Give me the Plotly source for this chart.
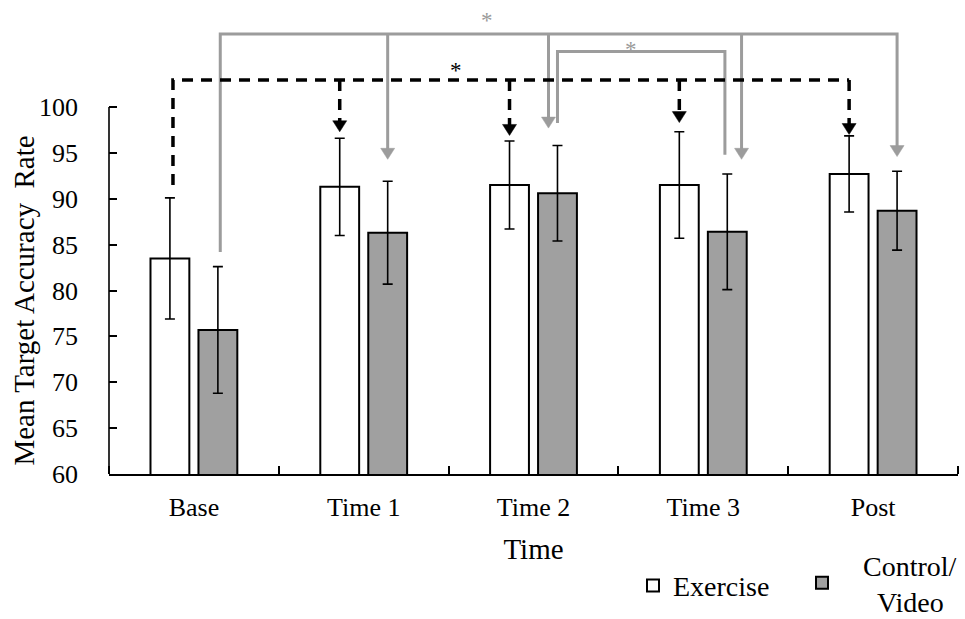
import plotly.graph_objects as go

# ---- data ----
times = ["Base", "Time 1", "Time 2", "Time 3", "Post"]
exercise_mean = [83.5, 91.3, 91.5, 91.5, 92.7]
exercise_err = [6.6, 5.3, 4.8, 5.8, 4.15]
control_mean = [75.7, 86.3, 90.6, 86.4, 88.7]
control_err = [6.9, 5.6, 5.2, 6.3, 4.3]
y_ticks = [60, 65, 70, 75, 80, 85, 90, 95, 100]

# significance brackets (y in accuracy units)
ex_line_y = 102.94          # dashed bracket, Exercise comparisons
ex_start_y = 91.5
ex_arrow_tips = [97.3, 96.9, 98.3, 97.0]     # Time 1, Time 2, Time 3, Post
ct_line_y = 107.96          # outer gray bracket, Control comparisons
ct_start_y = 84.2
ct_arrow_tips = [94.3, 97.7, 94.3, 94.6]
ct_drop_shift = [0.0, -0.053, 0.084, 0.0]
inner_line_y = 106.06       # inner gray bracket Time 2 -> Time 3
inner_left_end = 98.26
inner_right_end = 94.8
stars = [  # x (category units), y, colour
    (1.7235, 109.4, "#9a9a9a"),
    (2.574, 106.3, "#9a9a9a"),
    (1.545, 103.96, "#000000"),
]

GRAY_FILL = "#a0a0a0"
GRAY_LINE = "#9c9c9c"
FONT = "Liberation Serif"
BARGAP = 0.435
BARGROUPGAP = 0.19
HALF = (1 - BARGAP) / 4      # centre offset of each bar in a group
Y_TOP = 60 + 474 / 9.175

x = list(range(len(times)))

fig = go.Figure()
fig.add_trace(go.Bar(
    x=x, y=exercise_mean, name="Exercise", legend="legend", showlegend=True,
    marker=dict(color="white", line=dict(color="black", width=2)),
    error_y=dict(type="data", array=exercise_err, color="black", thickness=1.6, width=5),
))
fig.add_trace(go.Bar(
    x=x, y=control_mean, name="\u00a0\u00a0\u00a0Control/<br>\u00a0\u00a0\u00a0\u00a0\u00a0Video",
    legend="legend2", showlegend=True,
    marker=dict(color=GRAY_FILL, line=dict(color="black", width=2)),
    error_y=dict(type="data", array=control_err, color="black", thickness=1.6, width=5),
))

shapes = []
# outer gray bracket: Base control -> Post control
shapes.append(dict(
    type="path", xref="x", yref="y",
    path=f"M {0 + HALF + 0.014},{ct_start_y} V {ct_line_y} H {4 + HALF} V {ct_arrow_tips[3] + 1.0}",
    line=dict(color=GRAY_LINE, width=3),
))
for i, (tip, sh) in enumerate(zip(ct_arrow_tips[:3], ct_drop_shift[:3]), start=1):
    xs = i + HALF + sh
    shapes.append(dict(type="line", xref="x", yref="y", x0=xs, x1=xs,
                       y0=ct_line_y, y1=tip + 1.0, line=dict(color=GRAY_LINE, width=3)))
# inner gray bracket: Time 2 control -> Time 3 control
shapes.append(dict(
    type="path", xref="x", yref="y",
    path=f"M {2 + HALF},{inner_left_end} V {inner_line_y} H {3 + HALF - 0.014} V {inner_right_end}",
    line=dict(color=GRAY_LINE, width=3),
))
# gray arrow heads
for i, (tip, sh) in enumerate(zip(ct_arrow_tips, ct_drop_shift), start=1):
    shapes.append(dict(type="path", xref="x", yref="y", xsizemode="pixel", ysizemode="pixel",
                       xanchor=i + HALF + sh, yanchor=tip,
                       path="M -7,11 L 7,11 L 0,0 Z",
                       fillcolor=GRAY_LINE, line=dict(color=GRAY_LINE, width=0.5)))
# black dashed bracket: Base exercise -> every later exercise bar
shapes.append(dict(
    type="path", xref="x", yref="y",
    path=f"M {0 - HALF + 0.018},{ex_start_y} V {ex_line_y} H {4 - HALF}",
    line=dict(color="black", width=3.5, dash="11px,8px"),
))
for i, tip in enumerate(ex_arrow_tips, start=1):
    xs = i - HALF
    shapes.append(dict(type="line", xref="x", yref="y", x0=xs, x1=xs,
                       y0=ex_line_y, y1=tip + 1.0, line=dict(color="black", width=3.5, dash="11px,8px")))
    shapes.append(dict(type="path", xref="x", yref="y", xsizemode="pixel", ysizemode="pixel",
                       xanchor=xs, yanchor=tip,
                       path="M -7,11 L 7,11 L 0,0 Z",
                       fillcolor="black", line=dict(color="black", width=0.5)))
# y axis line spanning only the scale 60-100
shapes.append(dict(type="line", xref="paper", yref="y", x0=0, x1=0, y0=60, y1=100,
                   line=dict(color="black", width=1.6)))

annotations = [
    dict(text="*", x=sx, y=sy, xref="x", yref="y", showarrow=False,
         font=dict(family=FONT, size=23, color=c))
    for sx, sy, c in stars
]
annotations.append(dict(
    text="Mean Target Accuracy  Rate", textangle=-90, xref="paper", yref="y",
    x=(24 - 109) / 849, y=78.9, showarrow=False, xanchor="center", yanchor="middle",
    font=dict(family=FONT, size=29, color="black"),
))

legend_font = dict(family=FONT, size=28, color="black")
fig.update_layout(
    width=965, height=619,
    margin=dict(l=109, r=7, t=0, b=145, pad=0, autoexpand=False),
    paper_bgcolor="white", plot_bgcolor="white",
    barmode="group", bargap=BARGAP, bargroupgap=BARGROUPGAP,
    font=dict(family=FONT, color="black"),
    shapes=shapes, annotations=annotations,
    showlegend=True,
    legend=dict(x=(633 - 109) / 849, y=-0.236, xanchor="left", yanchor="middle",
                font=legend_font, bgcolor="rgba(0,0,0,0)", visible=True),
    legend2=dict(x=(802 - 109) / 849, y=-0.2297, xanchor="left", yanchor="middle",
                 font=legend_font, bgcolor="rgba(0,0,0,0)", visible=True),
)
fig.update_xaxes(
    range=[-0.5, 4.5], tickvals=x, ticktext=times, ticks="", automargin=False,
    tickfont=dict(family=FONT, size=26, color="black"), ticklabelstandoff=9,
    showline=True, linecolor="black", linewidth=1.6, showgrid=False, zeroline=False,
    minor=dict(tick0=0.5, dtick=1, ticks="inside", ticklen=8, tickwidth=1.6, tickcolor="black"),
    title=dict(text="Time", font=dict(family=FONT, size=29, color="black"), standoff=18),
)
fig.update_yaxes(
    range=[60, Y_TOP], tickvals=y_ticks, ticks="inside", ticklen=8, tickwidth=1.6, automargin=False,
    tickcolor="black", tickfont=dict(family=FONT, size=26, color="black"),
    ticklabelstandoff=30, showline=False, showgrid=False, zeroline=False,
)

fig.write_html("out.html")
